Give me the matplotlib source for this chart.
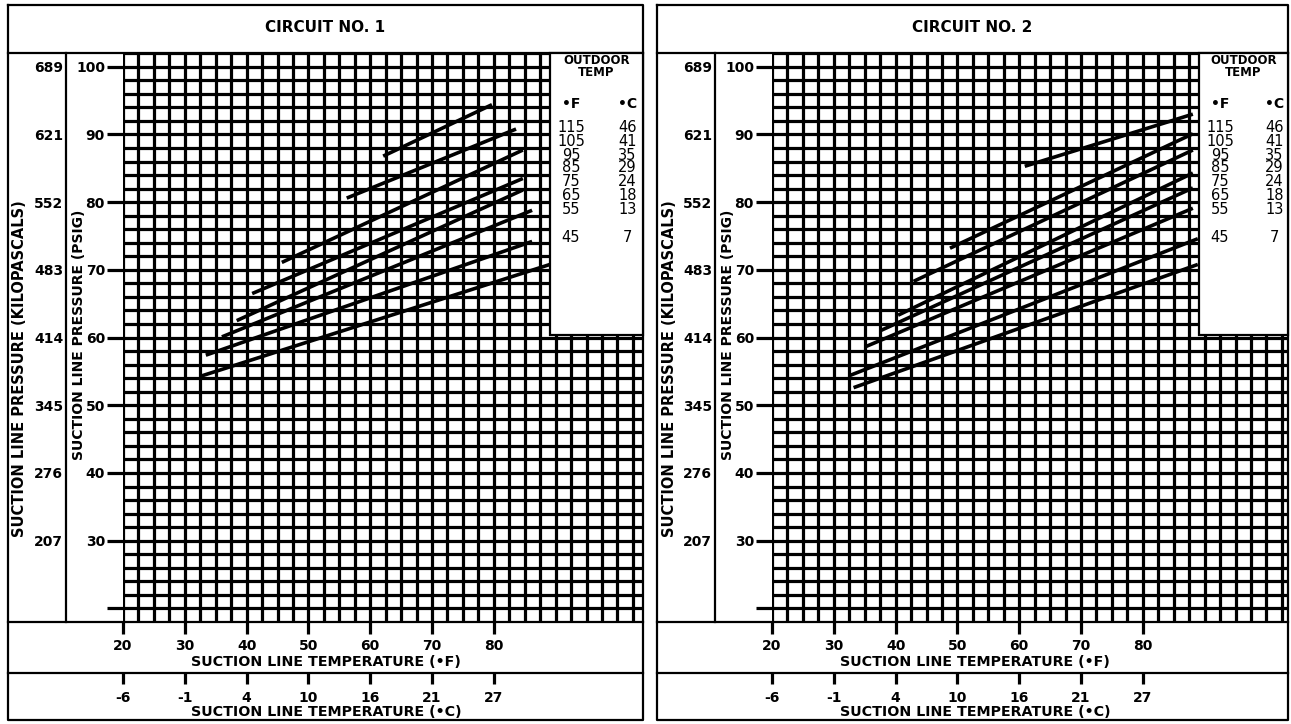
import matplotlib
matplotlib.use("Agg")
import matplotlib.pyplot as plt
import numpy as np
from matplotlib.lines import Line2D
from matplotlib.patches import Rectangle

plt.rcParams['font.family'] = ['DejaVu Sans']
plt.rcParams['font.weight'] = 'bold'

# ---------------- data ----------------
outdoor_temp_f = ["115", "105", "95", "85", "75", "65", "55", "45"]
outdoor_temp_c = ["46", "41", "35", "29", "24", "18", "13", "7"]

# Circuit 1: suction line temperature (F) / pressure (psig) at each line's ends
c1_start_temp = [62.1, 56.2, 45.7, 40.9, 38.4, 36.0, 33.4, 32.6]
c1_start_psig = [86.8, 80.6, 71.1, 66.5, 62.5, 60.1, 57.4, 54.3]
c1_end_temp = [79.7, 83.6, 84.7, 84.7, 84.7, 86.2, 86.2, 89.1]
c1_end_psig = [94.4, 90.8, 87.7, 83.5, 81.8, 78.8, 74.2, 70.8]

# Circuit 2
c2_start_temp = [60.9, 48.8, 42.9, 40.4, 37.5, 35.0, 32.6, 33.2]
c2_start_psig = [85.3, 73.2, 68.3, 63.3, 61.0, 58.6, 54.4, 52.6]
c2_end_temp = [88.1, 88.1, 88.1, 88.1, 88.1, 88.1, 88.9, 88.9]
c2_end_psig = [93.0, 90.1, 87.7, 84.3, 82.1, 79.1, 74.6, 70.8]

temp_f_ticks = [20, 30, 40, 50, 60, 70, 80]
temp_c_labels = ["-6", "-1", "4", "10", "16", "21", "27"]
psig_ticks = [20, 30, 40, 50, 60, 70, 80, 90, 100]
psig_labels = ["", "30", "40", "50", "60", "70", "80", "90", "100"]
kpa_labels = ["", "207", "276", "345", "414", "483", "552", "621", "689"]

# ---------------- layout (pixels) ----------------
W, H = 1291, 724
fig = plt.figure(figsize=(W / 100, H / 100), dpi=100)

PX_F = 6.18       # px per degree F
PX_P = 6.77       # px per psig
GL = 123          # grid left
GB = 621.9        # grid bottom
GT = GB - 84 * PX_P   # grid top (102 psig)
PL, PT, PB = 8, 5, 720
ROW2 = 673
LW_GRID = 2.3
LW_FRAME = 1.6


def panel(x0, pr, title, sT, sP, eT, eP):
    X = lambda px: (px + x0) / W
    Y = lambda py: 1 - py / H

    def T(px, py, s, **kw):
        kw.setdefault('ha', 'center')
        kw.setdefault('va', 'center')
        fig.text(X(px), Y(py), s, **kw)

    def L(xs, ys):
        fig.add_artist(Line2D([X(v) for v in xs], [Y(v) for v in ys],
                              color='k', lw=LW_FRAME, transform=fig.transFigure))

    xmax = 20 + (pr - GL) / PX_F
    ax = fig.add_axes([X(GL), Y(GB), (pr - GL) / W, (GB - GT) / H])
    ax.set_xlim(20, xmax)
    ax.set_ylim(18, 102)
    for s in ax.spines.values():
        s.set_visible(False)
    ax.vlines(np.arange(20, xmax - 0.5, 2.5), 18, 102, color='k', lw=LW_GRID)
    ax.hlines(np.arange(20, 102.1, 2), 20, xmax, color='k', lw=LW_GRID)
    for i in range(len(sT)):
        ax.plot([sT[i], eT[i]], [sP[i], eP[i]], color='k', lw=2.6,
                solid_capstyle='butt')

    ax.set_yticks(psig_ticks, labels=psig_labels)
    ax.tick_params(axis='y', length=11.5, width=LW_GRID, pad=1.5, labelsize=10)
    ax.set_xticks(temp_f_ticks, labels=[str(t) for t in temp_f_ticks])
    ax.tick_params(axis='x', length=8.6, width=LW_GRID, pad=4, labelsize=10)

    # Celsius row
    axc = fig.add_axes([X(GL), Y(ROW2), (pr - GL) / W, 0.0001])
    axc.set_xlim(20, xmax)
    axc.set_xticks(temp_f_ticks, labels=temp_c_labels)
    axc.set_yticks([])
    axc.tick_params(axis='x', length=8.0, width=LW_GRID, pad=5, labelsize=10)
    for s in axc.spines.values():
        s.set_visible(False)
    axc.patch.set_visible(False)

    # kPa column
    axk = fig.add_axes([X(66), Y(GB), 0.0001, (GB - GT) / H])
    axk.set_ylim(18, 102)
    axk.set_yticks(psig_ticks, labels=kpa_labels)
    axk.set_xticks([])
    axk.tick_params(axis='y', length=0, pad=2, labelsize=10)
    for s in axk.spines.values():
        s.set_visible(False)
    axk.patch.set_visible(False)

    # frame
    L([PL, pr, pr, PL, PL], [PT, PT, PB, PB, PT])
    L([PL, pr], [GT, GT])
    L([PL, pr], [GB, GB])
    L([PL, pr], [ROW2, ROW2])
    L([66, 66], [GT, GB])

    # legend box
    fig.add_artist(Rectangle((X(550), Y(335)), (pr - 550) / W, (335 - GT) / H,
                             facecolor='white', edgecolor='k', lw=LW_FRAME,
                             transform=fig.transFigure, zorder=5))
    cx = (550 + pr) / 2
    T(cx, 61, "OUTDOOR", fontsize=8.5, zorder=6)
    T(cx, 73, "TEMP", fontsize=8.5, zorder=6)
    T(571, 104, "•F", fontsize=10, zorder=6)
    T(cx + 31, 104, "•C", fontsize=10, zorder=6)
    ys = [127, 141, 155, 168, 181, 195, 209, 237]
    for yv, f, c in zip(ys, outdoor_temp_f, outdoor_temp_c):
        T(571, yv, f, fontsize=10.5, fontweight='normal', zorder=6)
        T(cx + 31, yv, c, fontsize=10.5, fontweight='normal', zorder=6)

    # texts
    T((PL + pr) / 2, 28, title, fontsize=11)
    T(20, 369, "SUCTION LINE PRESSURE (KILOPASCALS)", rotation=90, fontsize=10.5)
    T(79, 335, "SUCTION LINE PRESSURE (PSIG)", rotation=90, fontsize=10)
    T(326, 662, "SUCTION LINE TEMPERATURE (•F)", fontsize=10.3)
    T(326, 712, "SUCTION LINE TEMPERATURE (•C)", fontsize=10.3)


panel(0, 643, "CIRCUIT NO. 1", c1_start_temp, c1_start_psig, c1_end_temp, c1_end_psig)
panel(649, 639, "CIRCUIT NO. 2", c2_start_temp, c2_start_psig, c2_end_temp, c2_end_psig)

fig.savefig("out.png", dpi=100, facecolor='white')
